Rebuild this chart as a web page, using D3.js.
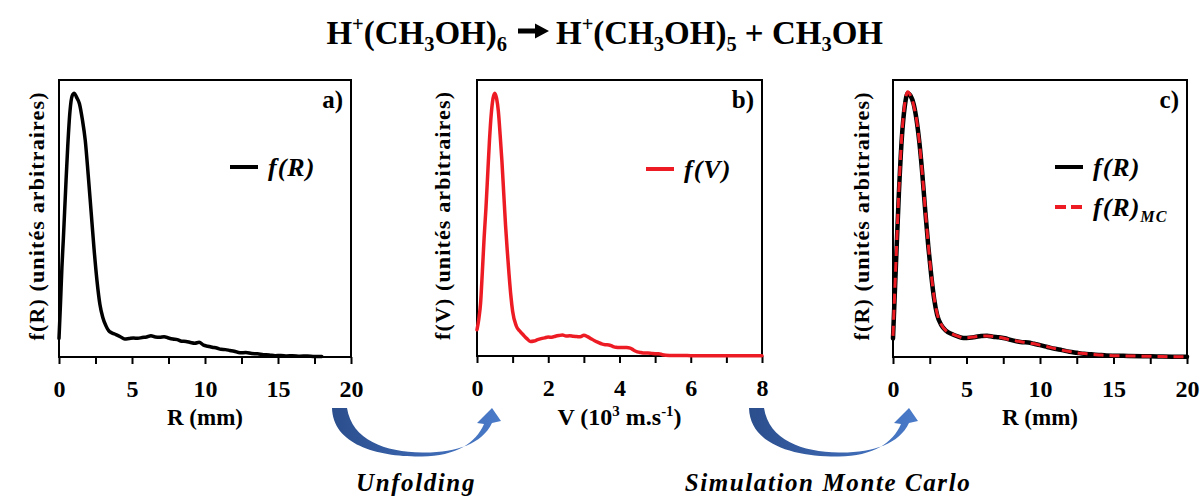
<!DOCTYPE html>
<html><head><meta charset="utf-8">
<script src="https://cdn.jsdelivr.net/npm/d3@7"></script>
<style>body{margin:0;background:#fff}svg{display:block}text{font-family:"Liberation Serif",serif}</style>
</head><body><svg id="chart" width="1201" height="498"></svg>
<script>
// ---------- data ----------
const rA = [0,0.1,0.2,0.3,0.45,0.6,0.75,0.9,1.05,1.2,1.4,1.6,1.8,2.0,2.2,2.4,2.6,2.8,3.0,3.2,3.4,3.6,3.9,4.2,4.5,4.8,5.1,5.4,5.7,6.0,6.3,6.6,6.9,7.2,7.5,7.8,8.1,8.4,8.7,9.0,9.3,9.6,9.9,10.2,10.5,10.8,11.1,11.4,11.7,12.0,12.4,12.8,13.2,13.6,14.0,14.4,14.8,15.2,15.6,16.0,16.5,17.0,17.5,18.0];
const fA = [0.07,0.2,0.34,0.45,0.63,0.8,0.93,0.99,1.0,0.985,0.96,0.9,0.82,0.69,0.55,0.41,0.29,0.2,0.15,0.12,0.1,0.092,0.085,0.077,0.068,0.07,0.072,0.071,0.074,0.076,0.081,0.076,0.075,0.077,0.072,0.068,0.066,0.06,0.059,0.055,0.052,0.056,0.045,0.041,0.037,0.034,0.029,0.028,0.025,0.022,0.016,0.017,0.013,0.012,0.009,0.008,0.005,0.006,0.004,0.005,0.003,0.004,0.002,0.002];

const vB = [0,0.05,0.1,0.15,0.2,0.25,0.3,0.35,0.4,0.45,0.5,0.55,0.6,0.65,0.7,0.75,0.8,0.85,0.9,0.95,1.0,1.1,1.2,1.3,1.4,1.5,1.6,1.7,1.8,1.9,2.0,2.1,2.2,2.3,2.4,2.5,2.6,2.7,2.8,2.9,3.0,3.1,3.2,3.3,3.4,3.5,3.6,3.7,3.8,3.9,4.0,4.1,4.2,4.3,4.4,4.5,4.6,4.7,4.8,4.9,5.0,5.1,5.2,5.3,5.5,5.8,6.0,8.0];
const fB = [0.1,0.14,0.2,0.32,0.45,0.56,0.69,0.82,0.92,0.98,1.0,0.98,0.93,0.84,0.74,0.62,0.5,0.4,0.31,0.23,0.17,0.115,0.095,0.08,0.066,0.055,0.057,0.062,0.066,0.069,0.072,0.071,0.075,0.078,0.08,0.076,0.077,0.075,0.074,0.073,0.079,0.074,0.066,0.058,0.052,0.046,0.043,0.042,0.037,0.033,0.032,0.032,0.032,0.03,0.022,0.016,0.013,0.011,0.011,0.01,0.009,0.009,0.005,0.003,0.002,0.002,0.001,0.001];

const rC = [0,0.2,0.4,0.6,0.8,1.0,1.2,1.4,1.6,1.8,2.0,2.2,2.4,2.6,2.8,3.0,3.3,3.6,4.0,4.4,4.8,5.2,5.6,6.0,6.4,6.8,7.2,7.6,8.0,8.4,8.8,9.2,9.6,10.0,10.5,11.0,11.5,12.0,12.5,13.0,13.5,14.0,14.5,15.0,16.0,17.0,18.0,19.0,20.0];
const fC = [0.07,0.35,0.62,0.83,0.95,1.0,0.99,0.96,0.9,0.81,0.69,0.55,0.42,0.31,0.22,0.16,0.12,0.1,0.087,0.078,0.072,0.073,0.076,0.08,0.081,0.077,0.075,0.071,0.065,0.06,0.056,0.055,0.05,0.045,0.038,0.031,0.026,0.02,0.016,0.012,0.01,0.008,0.006,0.005,0.004,0.003,0.002,0.001,0.001];
const fC_MC = [0.08,0.36,0.63,0.84,0.96,1.005,0.99,0.955,0.9,0.81,0.69,0.555,0.425,0.315,0.225,0.165,0.122,0.1,0.088,0.079,0.073,0.074,0.077,0.079,0.08,0.078,0.075,0.07,0.065,0.061,0.057,0.054,0.05,0.045,0.039,0.032,0.026,0.021,0.016,0.013,0.01,0.008,0.006,0.005,0.004,0.003,0.002,0.001,0.001];

const majorR = [0,5,10,15,20];
const minorR = [0,2.5,5,7.5,10,12.5,15,17.5,20];
const majorV = [0,2,4,6,8];
const minorV = [0,1,2,3,4,5,6,7,8];

// ---------- drawing ----------
const svg = d3.select("#chart");
const SERIF = "Liberation Serif";
const RED = "#ed1c24";

function rich(sel, parts, size){
  let shift = 0;
  parts.forEach(([t, m]) => {
    const target = m === 1 ? -0.38*size : m === -1 ? 0.22*size : 0;
    const ts = sel.append("tspan").text(t).attr("dy", target - shift);
    if (m !== 0) ts.attr("font-size", size*0.62);
    shift = target;
  });
}

// title (two text runs with a drawn reaction arrow between)
const tl = svg.append("text").attr("x", 507).attr("y", 44).attr("text-anchor","end")
  .style("font-family", SERIF).attr("font-weight","bold").attr("font-size", 33);
rich(tl, [["H",0],["+",1],["(CH",0],["3",-1],["OH)",0],["6",-1]], 33);
svg.append("path").attr("d","M518,28.5 L535,28.5 L535,23.5 L549,31 L535,38.5 L535,33.5 L518,33.5 Z").attr("fill","#000");
const tr = svg.append("text").attr("x", 556).attr("y", 44).attr("text-anchor","start")
  .style("font-family", SERIF).attr("font-weight","bold").attr("font-size", 33);
rich(tr, [["H",0],["+",1],["(CH",0],["3",-1],["OH)",0],["5",-1],[" + CH",0],["3",-1],["OH",0]], 33);

function panel(o){
  const x = d3.scaleLinear().domain(o.xdom).range([o.x0, o.x1]);
  const y = d3.scaleLinear().domain([0, 1.05]).range([o.y1, o.y0]);
  const g = svg.append("g");
  const ax = d3.axisBottom(x).tickValues(o.minor).tickSize(7).tickPadding(16)
    .tickFormat(d => o.major.includes(d) ? d : "");
  const axg = g.append("g").attr("transform", `translate(0,${o.y1})`).call(ax);
  axg.select(".domain").remove();
  axg.selectAll(".tick line").attr("stroke","#000").attr("stroke-width",2);
  axg.selectAll(".tick text").style("font-family", SERIF).attr("font-weight","bold").attr("font-size",24).attr("fill","#000");
  g.append("rect").attr("x", o.x0).attr("y", o.y0).attr("width", o.x1-o.x0).attr("height", o.y1-o.y0)
    .attr("fill","none").attr("stroke","#000").attr("stroke-width",2);
  o.series.forEach(s => {
    const line = d3.line().x((d,i)=>x(s.xs[i])).y(d=>y(d)).curve(d3.curveMonotoneX);
    g.append("path").attr("d", line(s.ys)).attr("fill","none").attr("stroke", s.color)
      .attr("stroke-width", s.w).attr("stroke-linejoin","round").attr("stroke-linecap", s.dash ? "butt" : "round")
      .attr("stroke-dasharray", s.dash || null);
  });
  g.append("text").attr("x", o.x1 - 8).attr("y", o.y0 + 28).attr("text-anchor","end")
    .style("font-family", SERIF).attr("font-weight","bold").attr("font-size",25).text(o.tag);
  const xl = g.append("text").attr("x", (o.x0+o.x1)/2).attr("y", 425).attr("text-anchor","middle")
    .style("font-family", SERIF).attr("font-weight","bold").attr("font-size",o.xls || 23);
  rich(xl, o.xlabel, o.xls || 23);
  g.append("text").attr("transform", `translate(${o.ylx},${(o.y0+o.y1)/2 - 2}) rotate(-90)`)
    .attr("text-anchor","middle").style("font-family", SERIF).attr("font-weight","bold").attr("font-size",22)
    .attr("textLength", 248).attr("lengthAdjust","spacing").text(o.ylabel);
  o.legend.forEach(l => {
    g.append("line").attr("x1", l.lx).attr("x2", l.lx + 28).attr("y1", l.ly).attr("y2", l.ly)
      .attr("stroke", l.color).attr("stroke-width", 4).attr("stroke-dasharray", l.dash || null);
    const t = g.append("text").attr("x", l.lx + 38).attr("y", l.ly + 9)
      .style("font-family", SERIF).attr("font-weight","bold").attr("font-style","italic").attr("font-size",26)
      .attr("letter-spacing", 1);
    rich(t, l.text, 26);
  });
}

panel({xdom:[0,20], x0:59, x1:351, y0:80, y1:357, major:majorR, minor:minorR, tag:"a)",
  xlabel:[["R (mm)",0]], ylabel:"f(R) (unités arbitraires)", ylx:44,
  series:[{xs:rA, ys:fA, color:"#000", w:3.5}],
  legend:[{lx:230, ly:167, color:"#000", text:[["f(R)",0]]}]});

panel({xdom:[0,8], x0:477, x1:762, y0:80, y1:356, major:majorV, minor:minorV, tag:"b)", xls:24,
  xlabel:[["V (10",0],["3",1],[" m.s",0],["-1",1],[")",0]], ylabel:"f(V) (unités arbitraires)", ylx:450,
  series:[{xs:vB, ys:fB, color:RED, w:3.5}],
  legend:[{lx:646, ly:169, color:RED, text:[["f(V)",0]]}]});

panel({xdom:[0,20], x0:893, x1:1187, y0:80, y1:357, major:majorR, minor:minorR, tag:"c)",
  xlabel:[["R (mm)",0]], ylabel:"f(R) (unités arbitraires)", ylx:869,
  series:[{xs:rC, ys:fC, color:"#000", w:4.5},{xs:rC, ys:fC_MC, color:RED, w:3, dash:"10,6"}],
  legend:[{lx:1055, ly:167, color:"#000", text:[["f(R)",0]]},
          {lx:1055, ly:207, color:RED, dash:"11,5", text:[["f(R)",0],["MC",-1]]}]});

// curved arrows
const defs = svg.append("defs");
const grad = defs.append("linearGradient").attr("id","ag").attr("x1","0").attr("x2","1").attr("y1","0").attr("y2","0");
grad.append("stop").attr("offset","0").attr("stop-color","#2b4e8c");
grad.append("stop").attr("offset","0.5").attr("stop-color","#3a64ad");
grad.append("stop").attr("offset","1").attr("stop-color","#4a7bc9");
const arrowPath = "M332,408 C333,445 378,457 422,456.5 C456,456 476,443 484,424 L477,423 L492,408 L501,421 L492,423 C482,444 456,453 422,452.5 C385,452 352,440 347,408 Z";
[0, 417].forEach(dx => {
  svg.append("path").attr("d", arrowPath).attr("transform", `translate(${dx},0)`).attr("fill","url(#ag)");
});

[["Unfolding", 416],["Simulation Monte Carlo", 828]].forEach(([t, cx]) => {
  svg.append("text").attr("x", cx).attr("y", 491).attr("text-anchor","middle")
    .style("font-family", SERIF).attr("font-weight","bold").attr("font-style","italic").attr("font-size",25)
    .attr("letter-spacing", 1.6).text(t);
});
</script></body></html>
